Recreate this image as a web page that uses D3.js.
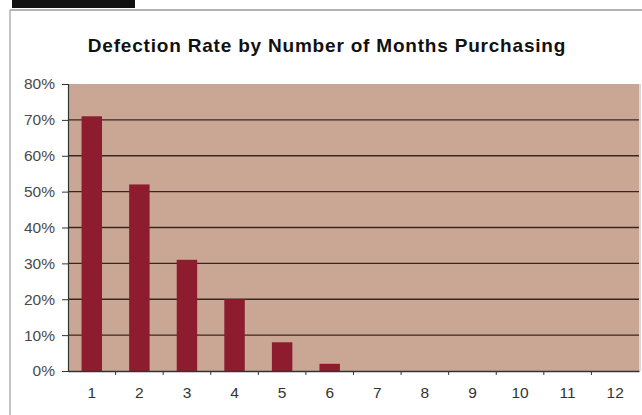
<!DOCTYPE html>
<html>
<head>
<meta charset="utf-8">
<script src="https://cdn.jsdelivr.net/npm/d3@7"></script>
<style>
  html, body { margin: 0; padding: 0; background: #ffffff; }
  svg { display: block; }
</style>
</head>
<body>
<svg id="chart" width="642" height="415"></svg>
<script>
// Months a customer has been purchasing, and the share who defect
const months = ["1", "2", "3", "4", "5", "6", "7", "8", "9", "10", "11", "12"];
const defectionRate = [0.71, 0.52, 0.31, 0.20, 0.08, 0.02, 0, 0, 0, 0, 0, 0];
const yTicks = [0, 0.1, 0.2, 0.3, 0.4, 0.5, 0.6, 0.7, 0.8];
const chartTitle = "Defection Rate by Number of Months Purchasing";

const svg = d3.select("#chart");
const W = 642, H = 415;
const plot = { left: 68, right: 639, top: 84, bottom: 371 };
const font = "Liberation Sans, Arial, sans-serif";

// page frame: dark tab and thin border lines
svg.append("rect").attr("x", 12).attr("y", 0).attr("width", 123).attr("height", 8).attr("fill", "#111");
svg.append("line").attr("x1", 10).attr("x2", W).attr("y1", 10).attr("y2", 10)
  .attr("stroke", "#9a9a9a").attr("stroke-width", 1.5);
svg.append("line").attr("x1", 10).attr("x2", 10).attr("y1", 10).attr("y2", H)
  .attr("stroke", "#b0b0b0").attr("stroke-width", 1.5);

svg.append("text")
  .attr("x", 327).attr("y", 52)
  .attr("text-anchor", "middle")
  .attr("font-family", font)
  .attr("font-weight", "bold")
  .attr("font-size", 19)
  .attr("letter-spacing", 0.8)
  .attr("fill", "#111")
  .text(chartTitle);

const x = d3.scaleBand().domain(months).range([plot.left, plot.right]).paddingInner(0.57).paddingOuter(0.285);
const xb = d3.scaleBand().domain(months).range([plot.left, plot.right]);
const y = d3.scaleLinear().domain([0, 0.8]).range([plot.bottom, plot.top]);

// plot background
svg.append("rect")
  .attr("x", plot.left).attr("y", plot.top)
  .attr("width", plot.right - plot.left).attr("height", plot.bottom - plot.top)
  .attr("fill", "#caa795");
svg.append("line").attr("x1", plot.right + 1).attr("x2", plot.right + 1)
  .attr("y1", plot.top).attr("y2", plot.bottom).attr("stroke", "#b8b0ac");

// gridlines
svg.append("g")
  .selectAll("line")
  .data(yTicks.filter(t => t > 0 && t < 0.8))
  .join("line")
  .attr("x1", plot.left).attr("x2", plot.right)
  .attr("y1", d => y(d)).attr("y2", d => y(d))
  .attr("stroke", "#3a2620").attr("stroke-width", 1.4);

// bars
svg.append("g")
  .selectAll("rect")
  .data(months.map((m, i) => ({ m, v: defectionRate[i] })).filter(d => d.v > 0))
  .join("rect")
  .attr("x", d => x(d.m))
  .attr("width", x.bandwidth())
  .attr("y", d => y(d.v))
  .attr("height", d => y(0) - y(d.v))
  .attr("fill", "#8c1c2e");

// y axis
const yAxis = svg.append("g")
  .attr("transform", `translate(${plot.left},0)`)
  .call(d3.axisLeft(y).tickValues(yTicks).tickFormat(d3.format(".0%")).tickSize(6).tickPadding(7));
yAxis.select(".domain").attr("stroke", "#333").attr("stroke-width", 1.2);
yAxis.selectAll(".tick line").attr("stroke", "#333");
yAxis.selectAll(".tick text")
  .style("font-family", font)
  .style("font-size", "15.5px").attr("fill", "#4a4a4a");

// x axis with ticks between categories
const xAxis = svg.append("g")
  .attr("transform", `translate(0,${plot.bottom})`)
  .call(d3.axisBottom(xb).tickSize(0).tickPadding(16));
xAxis.select(".domain").attr("stroke", "#333").attr("stroke-width", 1.4);
xAxis.selectAll(".tick text")
  .style("font-family", font)
  .style("font-size", "15.5px").attr("fill", "#333");
svg.append("g")
  .selectAll("line")
  .data(months.slice(1))
  .join("line")
  .attr("x1", d => xb(d)).attr("x2", d => xb(d))
  .attr("y1", plot.bottom).attr("y2", plot.bottom + 4)
  .attr("stroke", "#333");
</script>
</body>
</html>
